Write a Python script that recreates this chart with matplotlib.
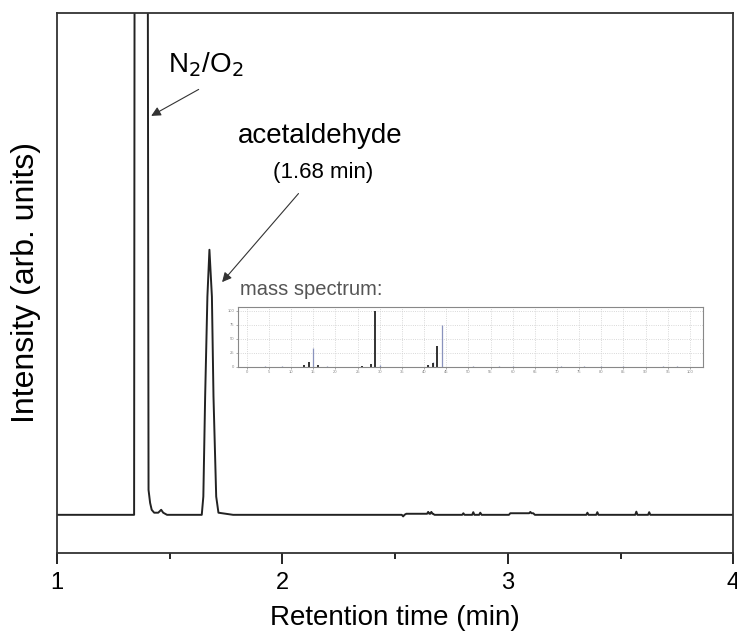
import matplotlib.pyplot as plt
import numpy as np

plt.rcParams['font.family'] = ['Liberation Sans', 'DejaVu Sans']

# chromatogram trace (retention time in min, intensity in arb. units)
time = [1.00, 1.343, 1.3455, 1.375, 1.403, 1.407, 1.414, 1.421, 1.432, 1.450,
        1.463, 1.472, 1.489, 1.643, 1.650, 1.658, 1.668, 1.677, 1.688, 1.695,
        1.707, 1.717, 1.782, 2.530, 2.536, 2.542, 2.550, 2.642, 2.647, 2.652,
        2.656, 2.661, 2.666, 2.669, 2.675, 2.798, 2.803, 2.808, 2.842, 2.847,
        2.852, 2.873, 2.878, 2.884, 3.005, 3.011, 3.095, 3.100, 3.105, 3.113,
        3.120, 3.348, 3.353, 3.358, 3.392, 3.397, 3.402, 3.565, 3.570, 3.575,
        3.622, 3.627, 3.632, 4.00]
intensity = [0.0, 0.0, 2.50, 3.00, 2.50, 0.094, 0.045, 0.019, 0.008, 0.008,
             0.019, 0.008, 0.0, 0.0, 0.069, 0.446, 0.823, 1.0, 0.823, 0.446,
             0.069, 0.008, 0.0, 0.0, -0.006, 0.0, 0.004, 0.004, 0.011, 0.004,
             0.004, 0.011, 0.004, 0.004, 0.0, 0.0, 0.006, 0.0, 0.0, 0.010,
             0.0, 0.0, 0.008, 0.0, 0.0, 0.006, 0.006, 0.011, 0.006, 0.006,
             0.0, 0.0, 0.008, 0.0, 0.0, 0.010, 0.0, 0.0, 0.012, 0.0,
             0.0, 0.010, 0.0, 0.0]

# inset mass spectrum (m/z, relative abundance)
mz_meas = [13, 14, 16, 26, 28, 29, 41, 42, 43]
ab_meas = [3, 9, 3, 2, 5, 100, 4, 6, 37]
mz_lib = [4, 8, 15, 18, 30, 41, 42, 44, 51, 57, 60, 71, 76, 80, 85, 94, 97]
ab_lib = [2, 2, 34, 2, 3, 3, 8, 75, 2, 2, 2, 2, 2, 2, 2, 2, 2]

fig = plt.figure(figsize=(7.37, 6.39), dpi=100)
ax = fig.add_axes([0.077, 0.135, 0.918, 0.845])

ax.plot(time, intensity, color='#222222', lw=1.4)
ax.set_xlim(1, 4)
ax.set_ylim(-0.143, 1.894)
ax.set_yticks([])
ax.set_xticks([1, 2, 3, 4])
ax.set_xticks([1.5, 2.5, 3.5], minor=True)
ax.tick_params(axis='x', which='major', length=8, width=1.2, labelsize=17, pad=6)
ax.tick_params(axis='x', which='minor', length=4, width=1.2)
for s in ax.spines.values():
    s.set_linewidth(1.3)
    s.set_color('#333333')
ax.set_xlabel('Retention time (min)', fontsize=20, labelpad=8)
ax.set_ylabel('Intensity (arb. units)', fontsize=23, labelpad=11)

ax.annotate('', xy=(1.408, 1.50), xytext=(1.64, 1.61),
            arrowprops=dict(arrowstyle='-|>', color='#333333', lw=0.8,
                            mutation_scale=14))
ax.text(1.66, 1.70, r'N$_2$/O$_2$', fontsize=20, ha='center', va='center')
ax.text(2.17, 1.43, 'acetaldehyde', fontsize=20, ha='center', va='center')
ax.text(2.18, 1.29, '(1.68 min)', fontsize=16, ha='center', va='center')
ax.annotate('', xy=(1.725, 0.87), xytext=(2.08, 1.22),
            arrowprops=dict(arrowstyle='-|>', color='#333333', lw=0.8,
                            mutation_scale=14))

ins = fig.add_axes([0.323, 0.426, 0.631, 0.094])
ins.vlines(mz_lib, 0, ab_lib, color='#8a93bd', lw=0.9)
ins.vlines(mz_meas, 0, ab_meas, color='#222222', lw=1.3)
ins.set_xlim(-2, 103)
ins.set_ylim(0, 107)
ins.set_xticks(np.arange(0, 101, 5))
ins.set_yticks([0, 25, 50, 75, 100])
ins.tick_params(labelsize=3, colors='#888888', length=1.5, width=0.5, pad=1)
ins.grid(True, color='#cccccc', lw=0.6, ls=':')
for s in ins.spines.values():
    s.set_color('#888888')
    s.set_linewidth(0.8)
fig.text(0.326, 0.532, 'mass spectrum:', fontsize=14.5, color='#555555',
         ha='left', va='bottom')

fig.savefig('out.png', dpi=100)
